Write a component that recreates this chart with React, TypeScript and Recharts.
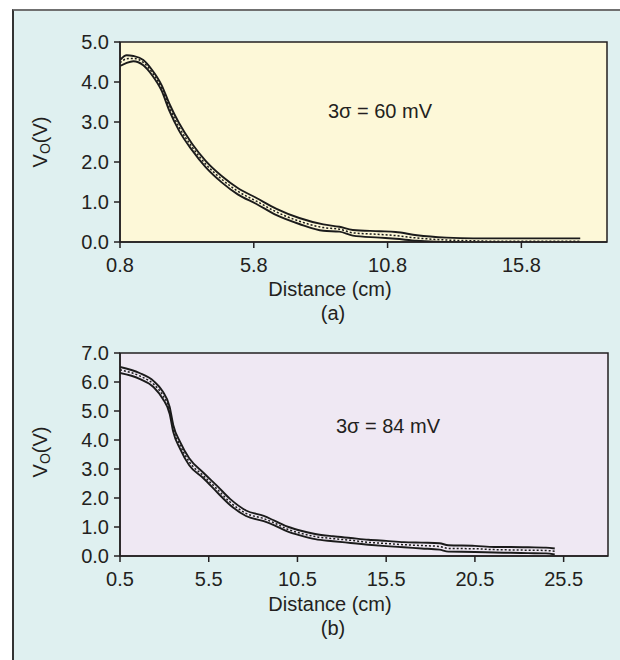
import React from 'react';
import { LineChart, Line, XAxis, YAxis, ReferenceArea } from 'recharts';

// panel (a): distance in cm, output voltage in V (three repeated sweeps)
const A_DIST = [0.8, 1.05, 1.3, 1.67, 2.0, 2.35, 2.65, 3.0, 3.5, 4.0, 4.6, 5.2, 5.9, 6.65, 7.5, 8.4, 9.0, 9.5, 10.5, 11.1, 11.9, 13.0, 14.0, 14.7, 16.0, 17.0, 18.0];
const A_HIGH = [4.55, 4.67, 4.65, 4.55, 4.3, 3.93, 3.45, 2.98, 2.45, 2.03, 1.65, 1.35, 1.1, 0.83, 0.6, 0.44, 0.38, 0.3, 0.27, 0.25, 0.17, 0.11, 0.09, 0.09, 0.09, 0.09, 0.09];
const A_MID = [4.48, 4.58, 4.59, 4.49, 4.24, 3.86, 3.36, 2.88, 2.37, 1.95, 1.57, 1.27, 1.02, 0.75, 0.52, 0.36, 0.32, 0.23, 0.19, 0.16, 0.1, 0.05, 0.03, 0.02, 0.02, 0.02, 0.02];
const A_LOW = [4.4, 4.48, 4.52, 4.42, 4.17, 3.79, 3.27, 2.79, 2.29, 1.87, 1.49, 1.19, 0.95, 0.67, 0.45, 0.28, 0.26, 0.16, 0.11, 0.08, 0.03, 0.0, -0.03, -0.04, -0.04, -0.04, -0.04];
const A_XTICKS = [0.8, 5.8, 10.8, 15.8];
const A_YTICKS = [0, 1, 2, 3, 4, 5];

// panel (b)
const B_DIST = [0.5, 1.6, 2.4, 2.9, 3.3, 3.5, 3.9, 4.4, 5.2, 6.0, 6.7, 7.6, 8.6, 9.2, 10.0, 10.7, 11.5, 12.5, 13.5, 14.5, 15.5, 16.5, 17.5, 18.5, 19.0, 20.5, 21.6, 22.5, 23.5, 24.5, 25.0];
const B_HIGH = [6.52, 6.31, 6.03, 5.68, 5.14, 4.52, 3.92, 3.37, 2.87, 2.4, 1.97, 1.57, 1.38, 1.22, 1.0, 0.87, 0.76, 0.68, 0.62, 0.56, 0.52, 0.48, 0.46, 0.44, 0.37, 0.35, 0.31, 0.31, 0.3, 0.29, 0.26];
const B_MID = [6.42, 6.21, 5.92, 5.55, 5.02, 4.4, 3.8, 3.25, 2.77, 2.29, 1.86, 1.47, 1.29, 1.14, 0.91, 0.78, 0.67, 0.6, 0.54, 0.47, 0.43, 0.39, 0.36, 0.33, 0.26, 0.25, 0.22, 0.21, 0.2, 0.19, 0.16];
const B_LOW = [6.31, 6.11, 5.82, 5.43, 4.9, 4.28, 3.68, 3.13, 2.68, 2.18, 1.76, 1.38, 1.2, 1.06, 0.83, 0.7, 0.58, 0.51, 0.45, 0.39, 0.34, 0.3, 0.26, 0.22, 0.15, 0.14, 0.12, 0.11, 0.1, 0.09, 0.05];
const B_XTICKS = [0.5, 5.5, 10.5, 15.5, 20.5, 25.5];
const B_YTICKS = [0, 1, 2, 3, 4, 5, 6, 7];

const FONT = '"Liberation Sans", Arial, sans-serif';
const INK = '#231f20';

const rows = (dist: number[], hi: number[], mid: number[], lo: number[]) =>
  dist.map((d, i) => ({ d, hi: hi[i], mid: mid[i], lo: lo[i] }));

const dataA = rows(A_DIST, A_HIGH, A_MID, A_LOW);
const dataB = rows(B_DIST, B_HIGH, B_MID, B_LOW);

interface PanelProps {
  data: { d: number; hi: number; mid: number; lo: number }[];
  xDomain: [number, number];
  yDomain: [number, number];
  xTicks: number[];
  yTicks: number[];
  fill: string;
  top: number;
  margin: { top: number; right: number; bottom: number; left: number };
}

const tickStyle = { fontSize: 20, fill: INK, fontFamily: FONT };

const Panel: React.FC<PanelProps> = ({ data, xDomain, yDomain, xTicks, yTicks, fill, top, margin }) => (
  <div style={{ position: 'absolute', left: 0, top }}>
    <LineChart width={620} height={330} data={data} margin={margin}>
      <XAxis
        dataKey="d"
        type="number"
        domain={xDomain}
        ticks={xTicks}
        tickFormatter={(v: number) => v.toFixed(1)}
        allowDataOverflow
        height={30}
        tickSize={6}
        tickMargin={10}
        stroke={INK}
        strokeWidth={1.5}
        tick={tickStyle}
      />
      <YAxis
        type="number"
        domain={yDomain}
        ticks={yTicks}
        tickFormatter={(v: number) => v.toFixed(1)}
        allowDataOverflow
        width={60}
        tickSize={6}
        tickMargin={5}
        stroke={INK}
        strokeWidth={1.5}
        tick={tickStyle}
      />
      <ReferenceArea
        x1={xDomain[0]}
        x2={xDomain[1]}
        y1={yDomain[0]}
        y2={yDomain[1]}
        fill={fill}
        fillOpacity={1}
        stroke={INK}
        strokeWidth={1.5}
      />
      <Line type="monotone" dataKey="hi" stroke="#1b1b1b" strokeWidth={1.9} dot={false} isAnimationActive={false} />
      <Line type="monotone" dataKey="lo" stroke="#1b1b1b" strokeWidth={1.9} dot={false} isAnimationActive={false} />
      <Line type="monotone" dataKey="mid" stroke="#1b1b1b" strokeWidth={1.5} strokeDasharray="2 2" dot={false} isAnimationActive={false} />
    </LineChart>
  </div>
);

const YTitle = ({ cy }: { cy: number }) => (
  <text x={40} y={cy} transform={`rotate(-90, 40, ${cy})`} textAnchor="middle" dominantBaseline="central"
    fontSize={20} fill={INK} fontFamily={FONT}>
    V<tspan fontSize={14} dy={5}>O</tspan><tspan dy={-5}>(V)</tspan>
  </text>
);

export default function App() {
  return (
    <div style={{ position: 'absolute', left: 0, top: 0, width: 620, height: 660, background: '#fff', overflow: 'hidden', fontFamily: FONT }}>
      <div style={{
        position: 'absolute', left: 12, top: 9, width: 640, height: 680,
        background: '#dff0f0', borderTop: '2px solid #707070', borderLeft: '2px solid #333',
      }} />
      <Panel data={dataA} xDomain={[0.8, 19]} yDomain={[0, 5]} xTicks={A_XTICKS} yTicks={A_YTICKS}
        fill="#fdf8d8" top={0} margin={{ top: 42, right: 13, bottom: 58, left: 60 }} />
      <Panel data={dataB} xDomain={[0.5, 28]} yDomain={[0, 7]} xTicks={B_XTICKS} yTicks={B_YTICKS}
        fill="#efe8f3" top={330} margin={{ top: 23, right: 12, bottom: 74, left: 60 }} />
      <svg width={620} height={660} style={{ position: 'absolute', left: 0, top: 0, pointerEvents: 'none' }}>
        <YTitle cy={142} />
        <YTitle cy={452} />
        <g fontSize={20} fill={INK} fontFamily={FONT} textAnchor="middle">
          <text x={380} y={118}>3σ = 60 mV</text>
          <text x={330} y={296}>Distance (cm)</text>
          <text x={333} y={320}>(a)</text>
          <text x={388} y={433}>3σ = 84 mV</text>
          <text x={330} y={611}>Distance (cm)</text>
          <text x={333} y={635}>(b)</text>
        </g>
      </svg>
    </div>
  );
}
